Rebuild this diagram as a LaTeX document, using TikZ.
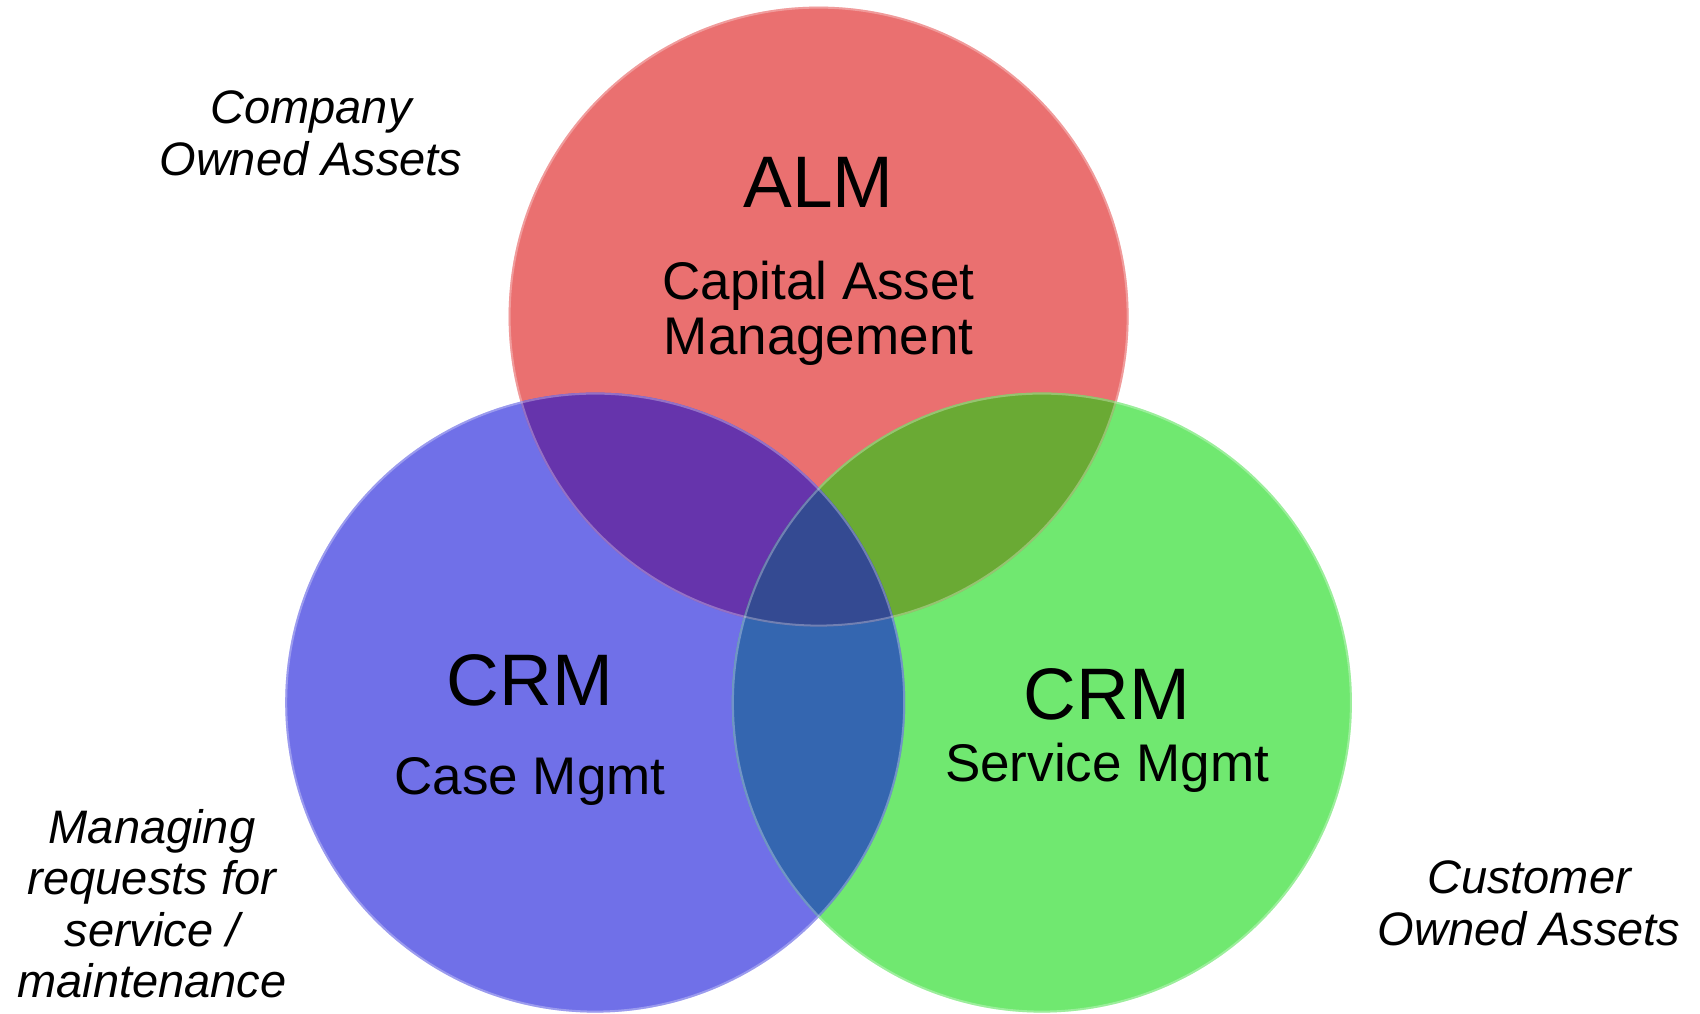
\documentclass[tikz,border=0pt]{standalone}
\usepackage{fontspec}
\setmainfont{Liberation Sans}
\usepackage{tikz}
\definecolor{Alm}{RGB}{234,112,112}
\definecolor{Case}{RGB}{112,112,232}
\definecolor{Serv}{RGB}{112,232,112}
\definecolor{AlmCase}{RGB}{102,52,172}
\definecolor{AlmServ}{RGB}{106,170,52}
\definecolor{CaseServ}{RGB}{52,102,176}
\definecolor{AllThree}{RGB}{52,74,146}

\begin{document}
\begin{tikzpicture}[x=1pt,y=-1pt,
    head/.style={inner sep=0,font=\fontsize{73}{80}\selectfont},
    sub/.style={inner sep=0,align=center,font=\fontsize{53}{55}\selectfont},
    side/.style={inner sep=0,align=center,font=\fontsize{47}{51.5}\selectfont\itshape},
    rim/.style={draw=white,draw opacity=0.3,line width=2pt}]
    \useasboundingbox (0,0) rectangle (1700,1014);
    \coordinate (alm) at (818.6,316.6);
    \coordinate (case) at (595.2,702.6);
    \coordinate (serv) at (1041.9,702.6);
    % the three sets
    \fill[Alm] (alm) circle (310pt);
    \fill[Case] (case) circle (310pt);
    \fill[Serv] (serv) circle (310pt);
    % overlaps
    \begin{scope}
        \clip (alm) circle (310pt);
        \fill[AlmCase] (case) circle (310pt);
        \fill[AlmServ] (serv) circle (310pt);
    \end{scope}
    \begin{scope}
        \clip (case) circle (310pt);
        \fill[CaseServ] (serv) circle (310pt);
        \clip (serv) circle (310pt);
        \fill[AllThree] (alm) circle (310pt);
    \end{scope}
    \draw[rim] (alm) circle (309pt);
    \draw[rim] (case) circle (309pt);
    \draw[rim] (serv) circle (309pt);
    % labels
    \node[head] (almhead) at (818.6,182) {ALM};
    \node[sub] (almtext) at (818.6,313) {Capital Asset\\Management};
    \node[head] (casehead) at (530,680) {CRM};
    \node[sub] (casetext) at (530,781.5) {Case Mgmt};
    \node[head] (servhead) at (1107,694) {CRM};
    \node[sub] (servtext) at (1107,767.5) {Service Mgmt};
    \node[side] (company) at (311,133.5) {Company\\Owned Assets};
    \node[side] (requests) at (152,903.5) {Managing\\requests for\\service /\\maintenance};
    \node[side] (customer) at (1529,903.5) {Customer\\Owned Assets};
\end{tikzpicture}
\end{document}
